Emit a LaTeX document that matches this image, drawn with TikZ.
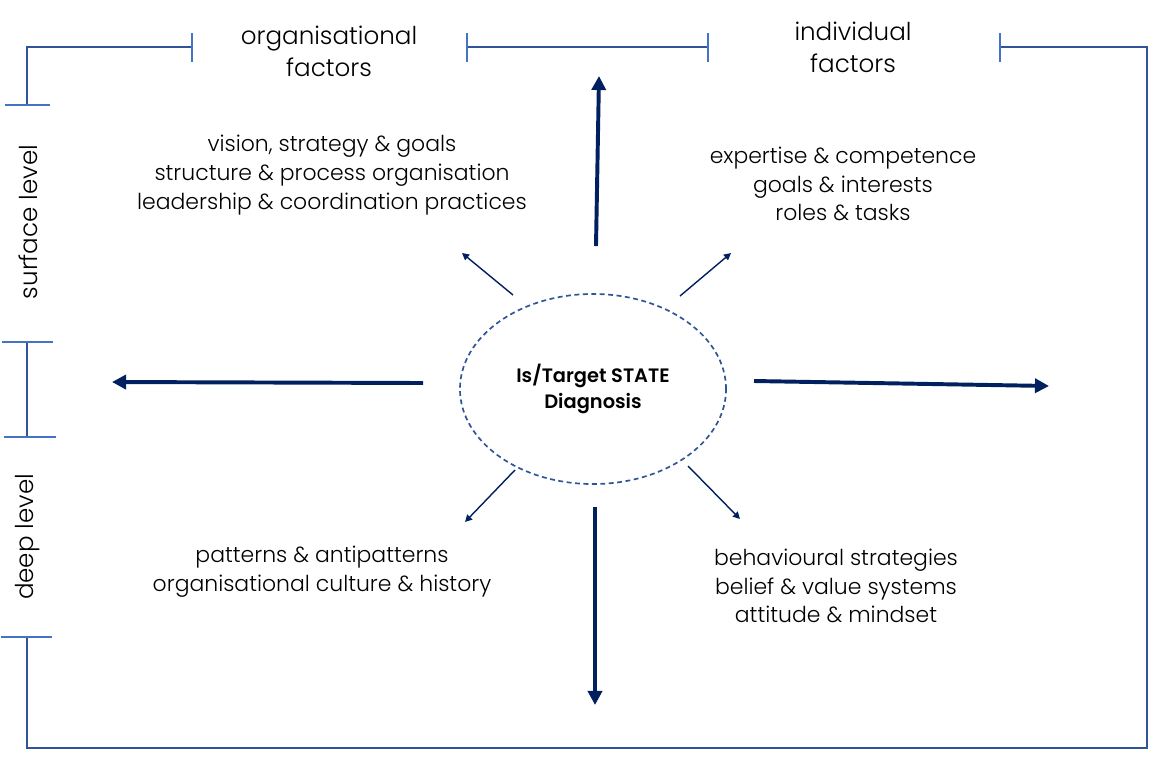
\documentclass[tikz,border=0pt]{standalone}
\usepackage{fontspec}
\setmainfont{Poppins}[UprightFont=* Light, BoldFont=* SemiBold]
\usepackage{tikz}
\usetikzlibrary{shapes.geometric, arrows.meta}
\usepackage{xcolor}

\definecolor{frameblue}{HTML}{2F5597}
\definecolor{tickblue}{HTML}{4472C4}
\definecolor{navy}{HTML}{002060}

\begin{document}
\begin{tikzpicture}[x=0.025cm,y=-0.025cm,
  frame/.style={frameblue, line width=1.7pt},
  tick/.style={tickblue, line width=0.9pt},
  bigarrow/.style={navy, line width=2.8pt, -{Triangle[length=10pt,width=10pt]}},
  smallarrow/.style={navy, line width=1pt, -{Triangle[length=5pt,width=5pt]}},
  factor/.style={align=center, font=\fontsize{15.6}{20.5}\selectfont},
  heading/.style={align=center, font=\fontsize{17.5}{22.7}\selectfont}]
\useasboundingbox (0,0) rectangle (1176,772);

% Rahmen
\draw[frame] (192,47) -- (27,47) -- (27,105);
\draw[frame] (27,342) -- (27,437);
\draw[frame] (27,637) -- (27,748) -- (1147,748) -- (1147,47) -- (1000,47);
\draw[frame] (467,47) -- (708,47);

% Markierungen
\draw[tick] (192,33) -- (192,62);
\draw[tick] (467,33) -- (467,62);
\draw[tick] (708,33) -- (708,62);
\draw[tick] (1000,33) -- (1000,62);
\draw[tick] (5,105) -- (50,105);
\draw[tick] (2,342) -- (53,342);
\draw[tick] (4,437) -- (56,437);
\draw[tick] (1,637) -- (52,637);

% Achsenbeschriftung
\node[heading] (orghead) at (329,51) {organisational\\factors};
\node[heading] (indhead) at (853,47) {individual\\factors};
\node[heading, rotate=90] (surface) at (28,222) {surface level};
\node[heading, rotate=90] (deep) at (28,537) {deep level};

% Mitte
\node[ellipse, draw=frameblue, line width=1.2pt, dash pattern=on 3.5pt off 2.5pt,
  minimum width=6.65cm, minimum height=4.75cm, inner sep=0pt, align=center,
  font=\bfseries\fontsize{13.8}{18.4}\selectfont] (diag) at (593,389) {Is/Target STATE\\Diagnosis};

% Faktoren
\node[factor] (orgsurf) at (332,175) {vision, strategy \& goals\\structure \& process organisation\\leadership \& coordination practices};
\node[factor] (indsurf) at (843,184) {expertise \& competence\\goals \& interests\\roles \& tasks};
\node[factor] (orgdeep) at (322,572) {patterns \& antipatterns\\organisational culture \& history};
\node[factor] (inddeep) at (836,586) {behavioural strategies\\belief \& value systems\\attitude \& mindset};

% Pfeile
\coordinate (upS) at (596,246);   \coordinate (upE) at (599,76);
\coordinate (leftS) at (423,383); \coordinate (leftE) at (112,382);
\coordinate (rightS) at (754,381); \coordinate (rightE) at (1049,386);
\coordinate (downS) at (595,507); \coordinate (downE) at (595,705);
\draw[bigarrow] (upS) -- (upE);
\draw[bigarrow] (leftS) -- (leftE);
\draw[bigarrow] (rightS) -- (rightE);
\draw[bigarrow] (downS) -- (downE);

\coordinate (nwS) at (513,295); \coordinate (nwE) at (462,253);
\coordinate (neS) at (680,296); \coordinate (neE) at (731,253);
\coordinate (swS) at (515,470); \coordinate (swE) at (465,522);
\coordinate (seS) at (688,466); \coordinate (seE) at (740,519);
\draw[smallarrow] (nwS) -- (nwE);
\draw[smallarrow] (neS) -- (neE);
\draw[smallarrow] (swS) -- (swE);
\draw[smallarrow] (seS) -- (seE);
\end{tikzpicture}
\end{document}
